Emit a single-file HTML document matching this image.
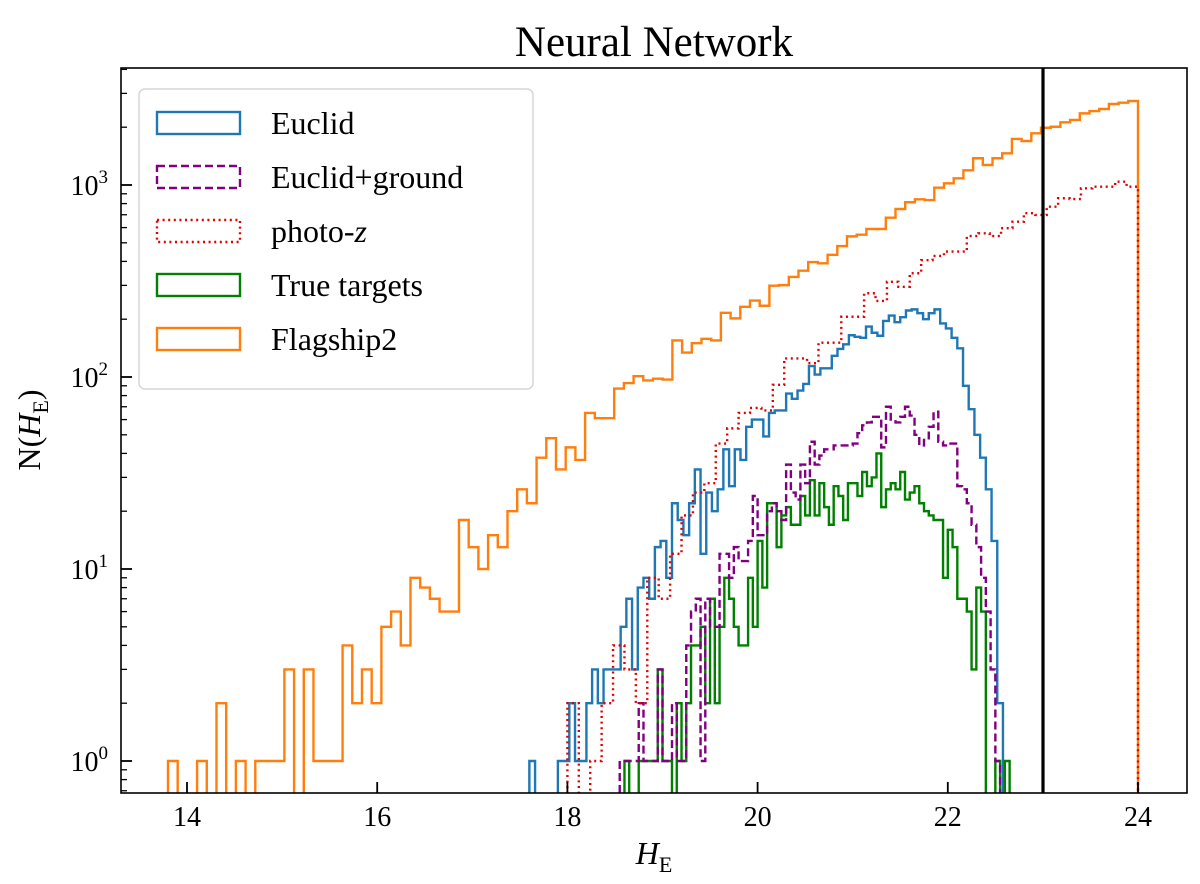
<!DOCTYPE html>
<html><head><meta charset="utf-8"><style>
html,body{margin:0;padding:0;background:#fff;}
svg{display:block;font-family:"Liberation Serif","DejaVu Serif",serif;}
</style></head><body>
<svg id="chart" width="1200" height="884" viewBox="0 0 1200 884" xmlns="http://www.w3.org/2000/svg">
<defs><clipPath id="plotclip"><rect x="121" y="68" width="1066" height="725"/></clipPath></defs>
<text x="654" y="56" font-size="43" text-anchor="middle">Neural Network</text>
<g id="series" clip-path="url(#plotclip)"></g>
<line x1="1043" y1="68" x2="1043" y2="793" stroke="#000" stroke-width="3.2"/>
<rect x="121" y="68" width="1066" height="725" fill="none" stroke="#000" stroke-width="1.6"/>
<g id="axes"></g>
<text x="654" y="864" font-size="32" font-style="italic" text-anchor="middle">H<tspan font-size="22" font-style="normal" dy="8">E</tspan></text>
<text transform="translate(40,430) rotate(-90)" font-size="32" text-anchor="middle">N(<tspan font-style="italic">H</tspan><tspan font-size="22" dy="8">E</tspan><tspan dy="-8">)</tspan></text>
<g>
<rect x="139" y="89" width="394" height="300" rx="6" fill="#fff" fill-opacity="0.85" stroke="#d6d6d6" stroke-width="1.5"/>
<g id="legend"></g>
</g>
</svg>
<script>
// ---- data ----
const orangeStart = 13.8, orangeWidth = 0.102;
const orangeCounts = [1,0,0,1,0,2,0,1,0,1,1,1,3,0,3,1,1,1,4,2,3,2,5,6,4,9,8,7,6,6,18,13,10,15,13,20,26,22,38,48,33,43,37,
65,61,61,87,93,101,96,98,97,155,134,150,158,155,216,202,232,250,235,299,301,332,358,397,391,433,481,540,
551,590,590,676,750,813,842,835,968,1020,1084,1193,1378,1271,1378,1462,1738,1695,1858,1987,2011,2120,2181,2361,2428,2488,2642,2685,2738];
const redStart = 18.0, redWidth = 0.12;
const redCounts = [2,0,1,2,4,3,2,9,7,12,19,25,28,45,54,65,69,67,91,125,125,118,151,151,206,206,273,249,313,295,347,406,427,450,450,542,560,542,596,644,713,698,771,853,845,961,980,980,1040,980];
const blueStart = 17.6, blueWidth = 0.06;
const blueCounts = [1,0,0,0,0,1,1,2,1,1,2,3,2,3,3,3,5,7,3,8,9,7,13,14,9,22,18,15,22,33,12,25,20,26,42,27,42,37,55,60,
60,49,65,67,67,82,77,85,92,114,103,111,111,129,140,148,165,162,160,183,170,164,196,209,193,205,222,225,215,200,215,225,190,179,160,141,90,68,50,38,26,14,2];
const purpleStart = 18.55, purpleWidth = 0.05;
const purpleCounts = [1,1,1,1,2,1,1,1,3,1,1,2,1,1,4,6,7,1,7,5,5,12,12,9,13,11,11,14,24,15,15,20,22,20,18,35,25,23,35,28,
46,35,39,42,42,44,44,44,44,45,51,56,58,62,62,43,70,60,58,62,70,63,50,44,47,55,66,46,44,45,45,27,26,22,17,13,9,6,3,1];
const greenStart = 18.6, greenWidth = 0.05;
const greenCounts = [1,0,0,1,1,1,1,3,1,1,0,2,1,2,4,4,5,2,7,2,5,9,7,5,4,4,9,5,14,8,22,22,13,19,21,17,17,24,19,29,
19,28,21,17,27,24,18,28,28,24,32,27,30,40,21,26,28,26,32,23,25,27,22,20,19,18,18,9,16,13,7,7,6,3,8,6,0,0,1,0,1];
const xTicks = [14,16,18,20,22,24];
const yTicks = [0,1,2,3];
const legendLabels = ["Euclid","Euclid+ground","photo-z","True targets","Flagship2"];

// ---- scales ----
const X = v => 187 + (v - 14) * 95.1;
const Y = v => v <= 0 ? 805 : 761 - Math.log10(v) * 192;
const NS = "http://www.w3.org/2000/svg";

function stepPath(start, width, counts){
  let d = "M" + X(start).toFixed(2) + "," + Y(0);
  counts.forEach((c, i) => {
    const x0 = X(start + i * width), x1 = X(start + (i + 1) * width);
    d += " L" + x0.toFixed(2) + "," + Y(c).toFixed(2) + " L" + x1.toFixed(2) + "," + Y(c).toFixed(2);
  });
  d += " L" + X(start + counts.length * width).toFixed(2) + "," + Y(0);
  return d;
}
const seriesG = document.getElementById("series");
function addSeries(name, start, width, counts, color, dash){
  const p = document.createElementNS(NS, "path");
  p.setAttribute("d", stepPath(start, width, counts));
  p.setAttribute("fill", "none");
  p.setAttribute("stroke", color);
  p.setAttribute("stroke-width", "2.4");
  if (dash) p.setAttribute("stroke-dasharray", dash);
  
  
  seriesG.appendChild(p);
}
addSeries("series-flagship2", orangeStart, orangeWidth, orangeCounts, "#ff7f0e", null);
addSeries("series-euclid", blueStart, blueWidth, blueCounts, "#1f77b4", null);
addSeries("series-true-targets", greenStart, greenWidth, greenCounts, "#008000", null);
addSeries("series-euclid-ground", purpleStart, purpleWidth, purpleCounts, "#800080", "8,4");
addSeries("series-photo-z", redStart, redWidth, redCounts, "#e00000", "2,3.6");

// ---- axes ----
const axes = document.getElementById("axes");
xTicks.forEach(t => {
  const l = document.createElementNS(NS, "line");
  l.setAttribute("x1", X(t)); l.setAttribute("x2", X(t));
  l.setAttribute("y1", 793); l.setAttribute("y2", 782);
  l.setAttribute("stroke", "#000"); l.setAttribute("stroke-width", "1.8");
  
  
  axes.appendChild(l);
  const tx = document.createElementNS(NS, "text");
  tx.setAttribute("x", X(t)); tx.setAttribute("y", 826);
  tx.setAttribute("font-size", "28"); tx.setAttribute("text-anchor", "middle");
  tx.textContent = t;
  
  
  axes.appendChild(tx);
});
for (let e = -1; e <= 3; e++){
  for (let m = 1; m <= 9; m++){
    const v = m * Math.pow(10, e);
    const y = Y(v);
    if (y < 68 || y > 793) continue;
    const l = document.createElementNS(NS, "line");
    l.setAttribute("x1", 121); l.setAttribute("x2", m === 1 ? 132 : 127);
    l.setAttribute("y1", y); l.setAttribute("y2", y);
    l.setAttribute("stroke", "#000"); l.setAttribute("stroke-width", m === 1 ? "1.8" : "1.3");
    
    
    axes.appendChild(l);
  }
}
yTicks.forEach(e => {
  const tx = document.createElementNS(NS, "text");
  tx.setAttribute("x", 108); tx.setAttribute("y", Y(Math.pow(10, e)) + 10);
  tx.setAttribute("font-size", "28"); tx.setAttribute("text-anchor", "end");
  tx.innerHTML = '10<tspan font-size="19" dy="-12">' + e + '</tspan>';
  
  
  axes.appendChild(tx);
});

// ---- legend ----
const lg = document.getElementById("legend");
const legendColors = ["#1f77b4","#800080","#e00000","#008000","#ff7f0e"];
const legendDash = [null,"8,4","2,3.6",null,null];
legendLabels.forEach((lab, i) => {
  const cy = 123 + i * 54;
  const r = document.createElementNS(NS, "rect");
  r.setAttribute("x", 157); r.setAttribute("y", cy - 11);
  r.setAttribute("width", 83); r.setAttribute("height", 22);
  r.setAttribute("fill", "none"); r.setAttribute("stroke", legendColors[i]);
  r.setAttribute("stroke-width", "2.4");
  if (legendDash[i]) r.setAttribute("stroke-dasharray", legendDash[i]);
  
  
  lg.appendChild(r);
  const t = document.createElementNS(NS, "text");
  t.setAttribute("x", 271); t.setAttribute("y", cy + 11);
  t.setAttribute("font-size", "32");
  if (lab === "photo-z") t.innerHTML = 'photo-<tspan font-style="italic">z</tspan>';
  else t.textContent = lab;
  
  
  lg.appendChild(t);
});
</script>
</body></html>
